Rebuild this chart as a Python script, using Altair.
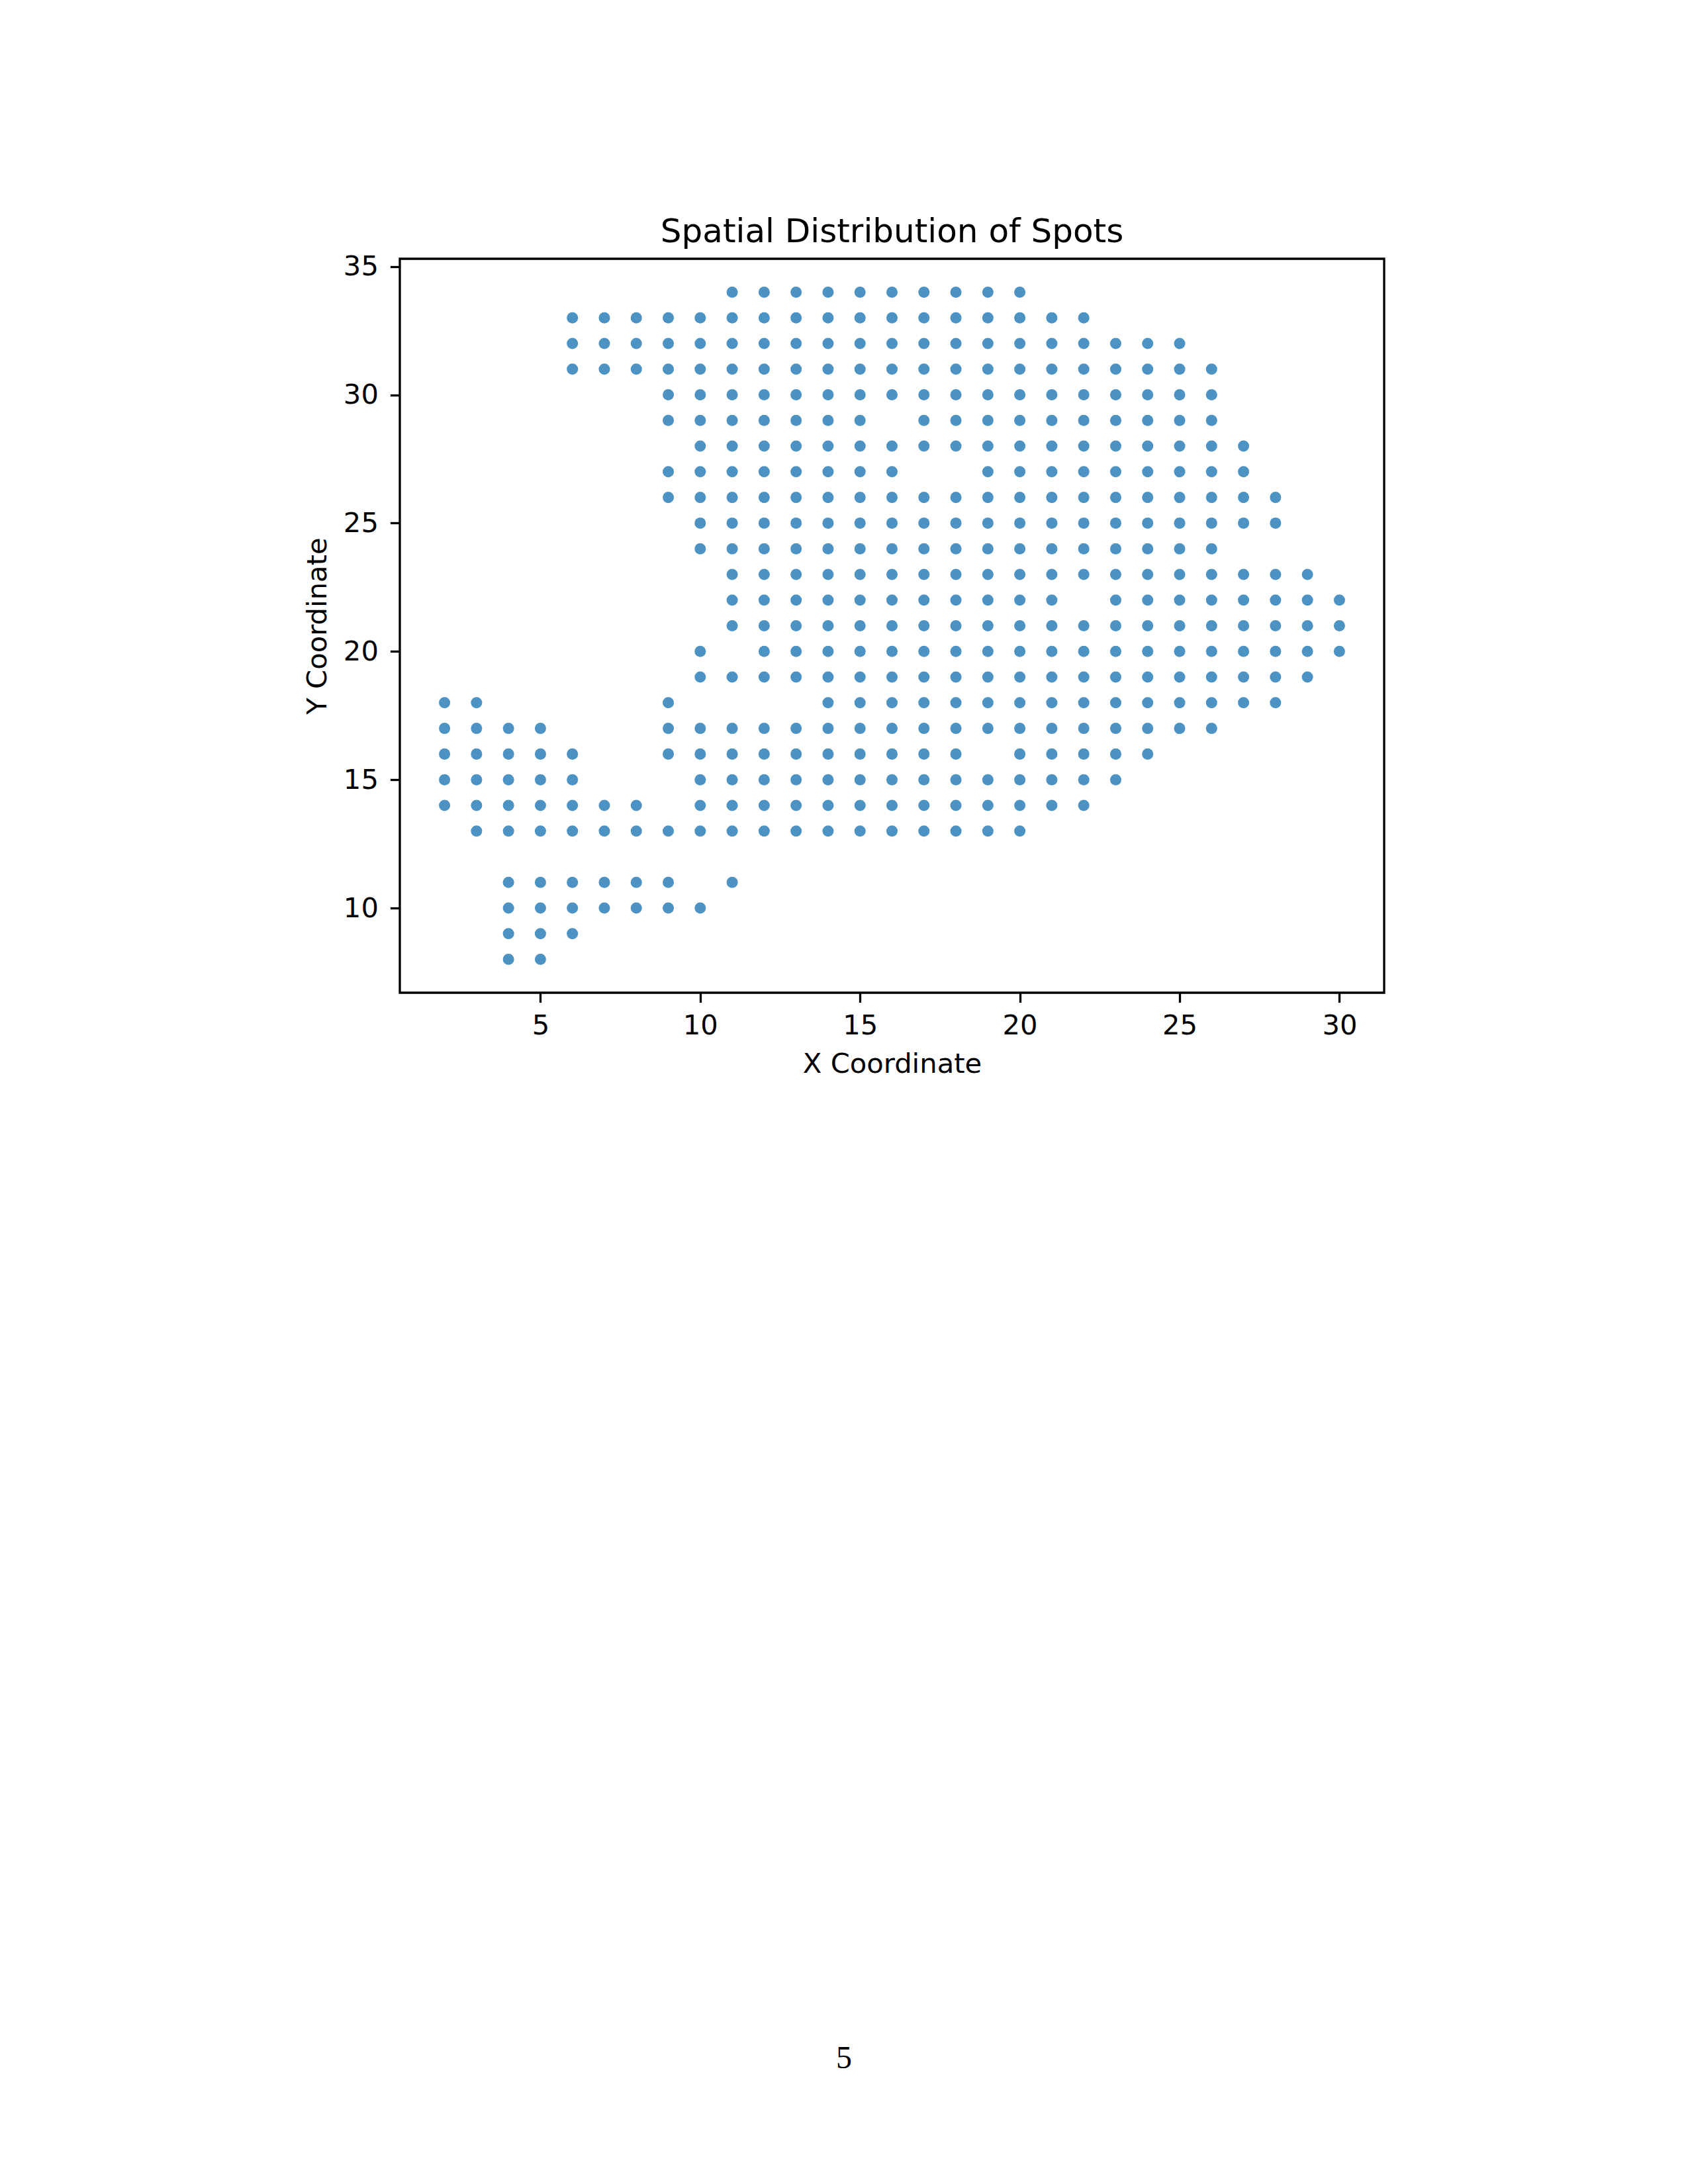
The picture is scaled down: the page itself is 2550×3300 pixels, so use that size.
import altair as alt
import pandas as pd

# Spots: one list of x positions per y row
row_y = [34, 33, 32, 31, 30, 29, 28, 27, 26, 25, 24, 23, 22, 21, 20, 19, 18, 17, 16, 15, 14, 13, 11, 10, 9, 8]
row_x = [
    [11, 12, 13, 14, 15, 16, 17, 18, 19, 20],
    [6, 7, 8, 9, 10, 11, 12, 13, 14, 15, 16, 17, 18, 19, 20, 21, 22],
    [6, 7, 8, 9, 10, 11, 12, 13, 14, 15, 16, 17, 18, 19, 20, 21, 22, 23, 24, 25],
    [6, 7, 8, 9, 10, 11, 12, 13, 14, 15, 16, 17, 18, 19, 20, 21, 22, 23, 24, 25, 26],
    [9, 10, 11, 12, 13, 14, 15, 16, 17, 18, 19, 20, 21, 22, 23, 24, 25, 26],
    [9, 10, 11, 12, 13, 14, 15, 17, 18, 19, 20, 21, 22, 23, 24, 25, 26],
    [10, 11, 12, 13, 14, 15, 16, 17, 18, 19, 20, 21, 22, 23, 24, 25, 26, 27],
    [9, 10, 11, 12, 13, 14, 15, 16, 19, 20, 21, 22, 23, 24, 25, 26, 27],
    [9, 10, 11, 12, 13, 14, 15, 16, 17, 18, 19, 20, 21, 22, 23, 24, 25, 26, 27, 28],
    [10, 11, 12, 13, 14, 15, 16, 17, 18, 19, 20, 21, 22, 23, 24, 25, 26, 27, 28],
    [10, 11, 12, 13, 14, 15, 16, 17, 18, 19, 20, 21, 22, 23, 24, 25, 26],
    [11, 12, 13, 14, 15, 16, 17, 18, 19, 20, 21, 22, 23, 24, 25, 26, 27, 28, 29],
    [11, 12, 13, 14, 15, 16, 17, 18, 19, 20, 21, 23, 24, 25, 26, 27, 28, 29, 30],
    [11, 12, 13, 14, 15, 16, 17, 18, 19, 20, 21, 22, 23, 24, 25, 26, 27, 28, 29, 30],
    [10, 12, 13, 14, 15, 16, 17, 18, 19, 20, 21, 22, 23, 24, 25, 26, 27, 28, 29, 30],
    [10, 11, 12, 13, 14, 15, 16, 17, 18, 19, 20, 21, 22, 23, 24, 25, 26, 27, 28, 29],
    [2, 3, 9, 14, 15, 16, 17, 18, 19, 20, 21, 22, 23, 24, 25, 26, 27, 28],
    [2, 3, 4, 5, 9, 10, 11, 12, 13, 14, 15, 16, 17, 18, 19, 20, 21, 22, 23, 24, 25, 26],
    [2, 3, 4, 5, 6, 9, 10, 11, 12, 13, 14, 15, 16, 17, 18, 20, 21, 22, 23, 24],
    [2, 3, 4, 5, 6, 10, 11, 12, 13, 14, 15, 16, 17, 18, 19, 20, 21, 22, 23],
    [2, 3, 4, 5, 6, 7, 8, 10, 11, 12, 13, 14, 15, 16, 17, 18, 19, 20, 21, 22],
    [3, 4, 5, 6, 7, 8, 9, 10, 11, 12, 13, 14, 15, 16, 17, 18, 19, 20],
    [4, 5, 6, 7, 8, 9, 11],
    [4, 5, 6, 7, 8, 9, 10],
    [4, 5, 6],
    [4, 5],
]

x_ticks = [5, 10, 15, 20, 25, 30]
y_ticks = [10, 15, 20, 25, 30, 35]
x_domain = [0.6, 31.4]
y_domain = [6.7, 35.3]
page_number = ["5"]

rows = []
for yv, xs in zip(row_y, row_x):
    for xv in xs:
        rows.append({"x": xv, "y": yv})
df = pd.DataFrame(rows)

FONT = "DejaVu Sans"
FS = 41.7

points = alt.Chart(df).mark_circle(size=290, color="#1f77b4", opacity=0.8).encode(
    x=alt.X("x:Q",
            scale=alt.Scale(domain=x_domain, nice=False, zero=False),
            axis=alt.Axis(values=x_ticks, title="X Coordinate", grid=False, domain=False,
                          tickSize=14.6, tickWidth=3.3, tickColor="black",
                          labelFont=FONT, labelFontSize=FS, labelColor="black", labelPadding=15,
                          labelFlush=False,
                          titleFont=FONT, titleFontSize=FS, titleFontWeight="normal",
                          titleColor="black", titlePadding=16)),
    y=alt.Y("y:Q",
            scale=alt.Scale(domain=y_domain, nice=False, zero=False),
            axis=alt.Axis(values=y_ticks, title="Y Coordinate", grid=False, domain=False,
                          tickSize=14.6, tickWidth=3.3, tickColor="black",
                          labelFont=FONT, labelFontSize=FS, labelColor="black", labelPadding=18,
                          labelFlush=False,
                          titleFont=FONT, titleFontSize=FS, titleFontWeight="normal",
                          titleColor="black", titlePadding=17)),
)

page = alt.Chart(pd.DataFrame({"t": page_number})).mark_text(
    font="Liberation Serif", fontSize=48, color="black", baseline="alphabetic", align="center"
).encode(text="t:N", x=alt.value(671), y=alt.value(2734))

chart = alt.layer(points, page).properties(
    width=1487,
    height=1109,
    background="white",
    title=alt.TitleParams("Spatial Distribution of Spots", font=FONT, fontSize=50,
                          fontWeight="normal", color="black", baseline="alphabetic",
                          offset=-33, frame="group"),
    autosize=alt.AutoSizeParams(type="none"),
    padding={"left": 596, "top": 383, "right": 451, "bottom": 1780},
).configure_view(stroke="black", strokeWidth=3.3)

chart.save("out.html", embed_options={"renderer": "svg", "actions": False})
